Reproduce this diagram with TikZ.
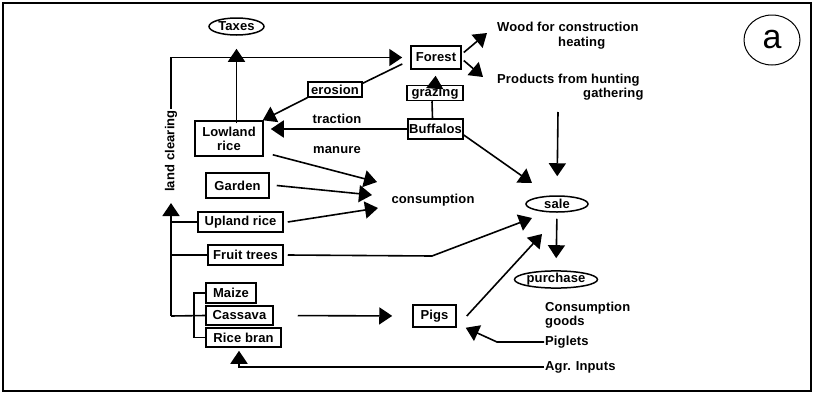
\documentclass[tikz,border=0pt]{standalone}
\usepackage{fontspec}
\setmainfont{Liberation Sans}[LetterSpace=1]
\newfontfamily\bigletter{Liberation Sans}
\usetikzlibrary{arrows.meta,calc,shapes.geometric}
\begin{document}
\begin{tikzpicture}[x=1pt,y=-1pt,
  every node/.style={font=\fontsize{13}{14}\selectfont\bfseries, inner sep=1pt},
  box/.style={draw, line width=1.5pt, inner sep=1pt},
  oval/.style={draw, ellipse, line width=1.5pt, inner sep=0pt},
  lab/.style={anchor=west, align=left},
  link/.style={line width=1.6pt},
  arr/.style={line width=1.6pt, -{Triangle[length=13pt,width=17pt]}}]
\useasboundingbox (0,0) rectangle (815,394);
\draw[line width=1.6pt] (3,3) rectangle (811,391);

% nodes
\node[oval, minimum width=55, minimum height=17] (taxes) at (236.5,26.5) {Taxes};
\node[box, minimum width=50, minimum height=23] (forest) at (436,57.5) {Forest};
\node[box, minimum width=56, minimum height=15] (grazing) at (435,93) {grazing};
\node[box, minimum width=55, minimum height=20] (buffalos) at (435.5,129) {Buffalos};
\node[box, minimum width=54, minimum height=15] (erosion) at (335,89.5) {erosion};
\node[box, minimum width=68, minimum height=35, align=center] (lowland) at (229,138.5) {Lowland\\rice};
\node[box, minimum width=63, minimum height=25] (garden) at (237.5,185.5) {Garden};
\node[box, minimum width=85, minimum height=20] (upland) at (240.5,222) {Upland rice};
\node[box, minimum width=75, minimum height=20] (fruit) at (245.5,255) {Fruit trees};
\node[box, minimum width=50, minimum height=20] (maize) at (231,293) {Maize};
\node[box, minimum width=67, minimum height=19] (cassava) at (239.5,315.5) {Cassava};
\node[box, minimum width=75, minimum height=19] (riceb) at (243.5,337.5) {Rice bran};
\node[box, minimum width=43, minimum height=22] (pigs) at (434.5,316) {Pigs};
\node[oval, minimum width=62, minimum height=16] (sale) at (557,204) {sale};
\node[oval, minimum width=78, minimum height=15] (purchase) at (556,279.5) {purchase};

\node[lab] (wood) at (496,27) {Wood for construction};
\node[lab] (heating) at (557,43) {heating};
\node[lab] (prod) at (496,80) {Products from hunting};
\node[lab] (gath) at (582,94) {gathering};
\node (cons) at (433,200) {consumption};
\node (traction) at (337,119) {traction};
\node (manure) at (337,150) {manure};
\node[rotate=90] (lc) at (171,151) {land clearing};
\node[lab] (cgoods) at (544,315) {Consumption\\goods};
\node[lab] (piglets) at (544,342) {Piglets};
\node[lab] (agr) at (544,367) {Agr. Inputs};
\node[draw, ellipse, line width=1pt, minimum width=56, minimum height=50, inner sep=0pt,
      font=\bigletter\fontsize{34}{34}\selectfont] (a) at (772,40) {a};

% coordinates
\coordinate (cj) at (171,316);
\coordinate (c1) at (377,182);
\coordinate (c2) at (372,195);
\coordinate (c3) at (378,208);
\coordinate (ftbend) at (432,256);
\coordinate (saleA) at (532,218);
\coordinate (saleB) at (532,183);
\coordinate (saleC) at (542,234);
\coordinate (prodB) at (558,112);
\coordinate (pigbend) at (497,342);

% connectors
\draw[arr, shorten >=8pt] (lc.east) |- (forest.west);
\draw[arr, shorten >=13pt, shorten <=-3pt] (taxes.south |- lowland.north) -- (taxes.south);
\draw[arr, shorten >=10pt] (cj) -- (lc.west);
\draw[link] (upland.west) -- (upland.west -| cj);
\draw[link] (fruit.west) -- (fruit.west -| cj);
\draw[link] (cassava.west) -- (cj);
\draw[link] (maize.west) -- ++(-11,0) |- (riceb.west);

\draw[arr] ([shift={(9,-2)}]lowland.south east) -- (c1);
\draw[arr] ([xshift=7pt]garden.east) -- (c2);
\draw[arr] ([xshift=4pt]upland.east) -- (c3);
\draw[arr] ([xshift=4pt]fruit.east) -- (ftbend) -- (saleA);
\draw[arr] ([shift={(0,6)}]buffalos.east) -- (saleB);
\draw[arr, shorten >=19pt] (prodB) -- (sale.north);
\draw[arr, shorten <=6pt, shorten >=12pt] (sale.south) -- (purchase.north);
\draw[arr] ([xshift=10pt]pigs.east) -- (saleC);
\draw[arr] (piglets.west) -- (pigbend) -- ([xshift=9pt]pigs.south east);
\draw[arr, shorten <=24pt, shorten >=20pt] (cassava.east) -- (pigs.west);
\draw[arr] (agr.west) -| ([shift={(-4.5,3)}]riceb.south);
\draw[arr, shorten >=7pt] (buffalos.west) -- (buffalos.west -| lowland.east);
\draw[link] ([xshift=-3pt]buffalos.north) -- ([xshift=-3pt]grazing.south);
\draw[arr, shorten >=6pt] (grazing.north) -- (forest.south);
\draw[link] ([shift={(-8,6.5)}]forest.west) -- ([yshift=-2pt]erosion.north east);
\draw[arr] (erosion.south west) -- ([xshift=-1pt]lowland.north east);
\draw[arr] ([shift={(2,-5)}]forest.east) -- ([shift={(-9,6)}]wood.west);
\draw[arr] ([shift={(2,3)}]forest.east) -- ([shift={(-13,-3)}]prod.west);
\end{tikzpicture}
\end{document}
